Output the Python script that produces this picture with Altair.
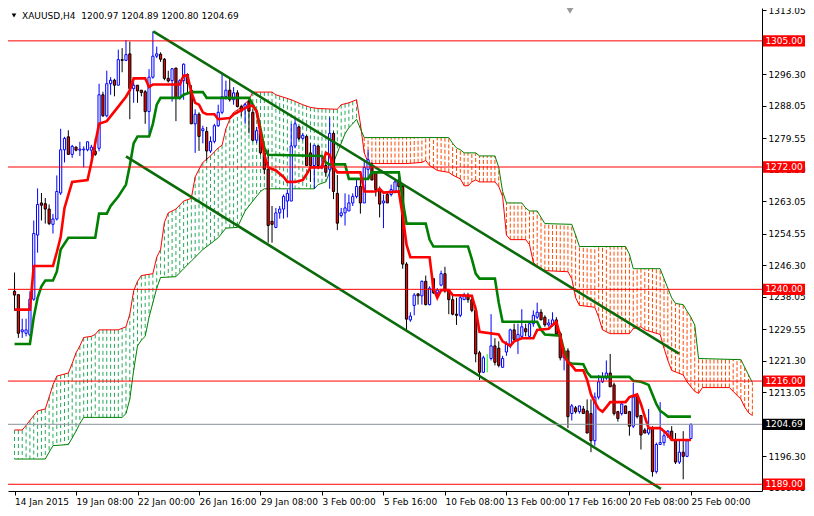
import altair as alt
import numpy as np
import pandas as pd

W, H = 754, 483
FONT = "DejaVu Sans"

HEADER = "XAUUSD,H4\u00a0 1200.97 1204.89 1200.80 1204.69"

OPEN = [1239.5, 1238.6, 1228.9, 1228.5, 1228.1, 1237.4, 1254.2, 1262.6, 1262.4, 1261.0,
        1257.0, 1258.4, 1265.2, 1276.5, 1279.9, 1275.3, 1277.2, 1276.4, 1276.5, 1276.5,
        1276.4, 1276.1, 1276.9, 1290.9, 1285.4, 1293.8, 1294.7, 1293.4, 1300.1, 1299.9,
        1301.6, 1292.5, 1293.4, 1292.1, 1291.7, 1286.5, 1295.5, 1301.0, 1301.5, 1300.2,
        1295.2, 1294.6, 1297.9, 1290.1, 1294.6, 1296.2, 1292.1, 1283.3, 1285.8, 1281.5,
        1281.3, 1276.2, 1278.7, 1282.8, 1286.3, 1290.4, 1292.1, 1289.6, 1291.4, 1287.8,
        1287.6, 1289.1, 1286.3, 1279.0, 1280.8, 1275.7, 1271.4, 1257.8, 1256.2, 1260.0,
        1261.0, 1263.1, 1263.1, 1277.5, 1282.5, 1279.5, 1280.0, 1275.7, 1272.4, 1277.5,
        1271.9, 1272.4, 1271.4, 1280.8, 1265.1, 1259.3, 1260.0, 1260.5, 1262.6, 1264.3,
        1266.9, 1262.6, 1271.4, 1272.4, 1270.6, 1266.1, 1262.6, 1264.8, 1264.8, 1265.6,
        1268.1, 1266.9, 1246.6, 1232.0, 1235.8, 1238.8, 1238.3, 1242.1, 1236.0, 1242.8,
        1239.1, 1241.1, 1244.1, 1239.8, 1237.3, 1233.5, 1233.2, 1237.3, 1238.5, 1237.3,
        1234.5, 1223.4, 1218.3, 1220.9, 1221.9, 1225.2, 1224.6, 1219.6, 1223.6, 1225.2,
        1229.4, 1226.9, 1227.7, 1229.7, 1227.7, 1231.0, 1232.7, 1234.0, 1232.7, 1230.7,
        1230.7, 1232.0, 1228.4, 1222.1, 1223.9, 1207.5, 1209.0, 1208.0, 1208.7, 1208.2,
        1207.5, 1200.4, 1211.8, 1215.8, 1216.8, 1218.1, 1215.0, 1208.0, 1207.5, 1209.5,
        1208.0, 1204.2, 1211.8, 1207.0, 1203.2, 1202.4, 1203.7, 1192.3, 1199.4, 1199.9,
        1201.7, 1202.9, 1200.6, 1194.8, 1197.4, 1196.3, 1200.97]
HIGH = [1244.4, 1238.6, 1232.3, 1232.3, 1239.5, 1258.0, 1266.4, 1265.2, 1263.9, 1262.2,
        1259.7, 1269.8, 1282.0, 1279.9, 1281.6, 1277.8, 1277.4, 1278.6, 1277.4, 1278.6,
        1277.8, 1279.5, 1293.8, 1291.7, 1297.2, 1295.5, 1295.1, 1302.7, 1303.1, 1305.2,
        1304.8, 1295.5, 1293.4, 1292.1, 1292.1, 1297.6, 1307.5, 1303.5, 1302.0, 1300.5,
        1297.2, 1297.9, 1297.9, 1295.0, 1299.1, 1296.5, 1293.4, 1287.1, 1286.3, 1282.8,
        1282.5, 1280.0, 1283.3, 1288.3, 1296.7, 1294.6, 1295.2, 1292.9, 1292.1, 1288.3,
        1288.8, 1289.6, 1287.1, 1282.5, 1281.3, 1276.5, 1276.5, 1261.8, 1261.3, 1261.8,
        1264.8, 1266.1, 1283.3, 1285.0, 1282.8, 1280.8, 1280.3, 1278.2, 1277.7, 1277.7,
        1274.9, 1273.2, 1285.0, 1281.3, 1269.9, 1261.3, 1265.1, 1264.8, 1265.1, 1268.9,
        1268.9, 1273.7, 1276.5, 1273.2, 1270.6, 1266.9, 1264.8, 1265.6, 1267.4, 1268.9,
        1269.9, 1267.4, 1247.1, 1234.0, 1239.0, 1239.0, 1242.3, 1243.6, 1240.8, 1242.8,
        1240.3, 1244.9, 1245.9, 1239.8, 1238.5, 1237.8, 1238.5, 1239.1, 1239.1, 1238.3,
        1235.8, 1223.9, 1222.6, 1223.1, 1233.5, 1227.2, 1226.4, 1222.6, 1226.4, 1229.7,
        1231.0, 1231.0, 1234.8, 1231.0, 1231.5, 1234.5, 1236.5, 1234.8, 1233.2, 1232.2,
        1234.0, 1232.7, 1228.9, 1224.6, 1224.6, 1210.0, 1209.5, 1209.5, 1209.5, 1211.2,
        1211.2, 1213.0, 1217.6, 1218.3, 1221.4, 1223.1, 1215.6, 1208.2, 1210.5, 1209.5,
        1208.2, 1215.6, 1212.5, 1207.0, 1203.7, 1208.7, 1204.2, 1199.9, 1210.5, 1202.9,
        1203.2, 1204.2, 1202.4, 1200.4, 1202.9, 1200.6, 1204.89]
LOW = [1234.4, 1227.3, 1227.3, 1227.7, 1227.7, 1237.0, 1249.6, 1258.0, 1257.2, 1256.8,
       1254.6, 1258.0, 1264.7, 1273.2, 1275.3, 1274.4, 1276.1, 1274.9, 1271.9, 1276.1,
       1273.2, 1274.9, 1276.1, 1285.1, 1285.0, 1290.9, 1290.5, 1293.4, 1296.8, 1299.7,
       1284.5, 1288.8, 1288.8, 1290.5, 1283.3, 1280.8, 1295.1, 1300.5, 1299.5, 1294.7,
       1294.1, 1289.1, 1284.0, 1289.6, 1289.6, 1291.6, 1283.3, 1275.7, 1276.2, 1278.2,
       1273.7, 1275.7, 1278.2, 1282.5, 1285.8, 1289.6, 1289.1, 1288.3, 1287.6, 1285.3,
       1283.3, 1280.8, 1278.7, 1278.2, 1275.2, 1270.1, 1252.2, 1252.2, 1256.0, 1258.5,
       1258.5, 1258.8, 1263.1, 1276.9, 1279.0, 1279.0, 1272.4, 1268.1, 1266.3, 1271.4,
       1271.4, 1269.4, 1266.3, 1263.6, 1255.5, 1258.8, 1256.7, 1260.5, 1261.8, 1263.8,
       1259.8, 1262.6, 1268.9, 1268.6, 1264.3, 1258.8, 1256.0, 1262.6, 1264.3, 1265.1,
       1265.6, 1245.4, 1229.4, 1231.5, 1233.2, 1236.0, 1236.0, 1235.8, 1235.8, 1238.8,
       1237.8, 1240.8, 1239.1, 1233.5, 1233.2, 1230.7, 1232.7, 1237.3, 1236.5, 1234.0,
       1220.9, 1216.3, 1218.1, 1218.3, 1221.4, 1220.1, 1219.6, 1219.6, 1222.6, 1224.6,
       1226.4, 1223.1, 1227.2, 1227.7, 1227.2, 1230.2, 1232.2, 1232.0, 1230.2, 1230.2,
       1230.2, 1228.2, 1221.4, 1218.8, 1203.7, 1205.7, 1207.5, 1207.5, 1207.5, 1202.4,
       1197.4, 1199.1, 1211.2, 1215.5, 1216.3, 1214.5, 1207.0, 1205.4, 1207.0, 1207.5,
       1201.7, 1203.7, 1206.2, 1198.1, 1202.4, 1201.9, 1191.0, 1191.8, 1199.4, 1199.1,
       1201.1, 1200.4, 1194.3, 1194.3, 1190.3, 1196.1, 1200.80]
CLOSE = [1238.5, 1228.5, 1229.4, 1229.4, 1237.4, 1254.6, 1262.2, 1262.0, 1261.0, 1257.2,
         1258.4, 1265.6, 1276.5, 1279.5, 1275.3, 1277.4, 1276.4, 1276.7, 1276.7, 1278.6,
         1277.2, 1275.3, 1290.9, 1285.4, 1293.8, 1294.7, 1293.4, 1300.1, 1299.9, 1301.4,
         1292.5, 1293.4, 1291.9, 1291.5, 1286.5, 1295.5, 1301.0, 1301.6, 1300.2, 1295.2,
         1294.5, 1297.7, 1290.1, 1294.6, 1298.9, 1293.9, 1283.3, 1285.8, 1280.0, 1282.0,
         1276.2, 1278.7, 1282.8, 1286.3, 1290.4, 1292.1, 1289.6, 1291.4, 1287.8, 1286.6,
         1288.3, 1286.6, 1279.0, 1281.5, 1275.7, 1271.4, 1256.7, 1257.0, 1260.0, 1261.0,
         1264.3, 1265.1, 1277.5, 1283.3, 1279.5, 1280.3, 1272.4, 1272.4, 1277.7, 1272.4,
         1272.4, 1270.6, 1280.8, 1265.6, 1257.3, 1260.0, 1261.3, 1262.6, 1264.3, 1266.9,
         1262.6, 1271.9, 1273.9, 1268.6, 1266.1, 1262.3, 1263.1, 1262.6, 1266.1, 1268.1,
         1266.9, 1246.6, 1232.2, 1233.0, 1238.5, 1238.3, 1242.1, 1236.0, 1240.3, 1239.1,
         1239.8, 1244.1, 1239.6, 1237.3, 1233.5, 1233.2, 1237.8, 1238.5, 1237.3, 1234.5,
         1223.1, 1218.3, 1222.1, 1220.9, 1225.2, 1220.9, 1220.1, 1221.9, 1225.7, 1229.4,
         1226.9, 1228.2, 1230.2, 1228.9, 1231.0, 1233.2, 1234.0, 1232.0, 1230.7, 1231.2,
         1232.0, 1228.4, 1222.1, 1223.9, 1206.7, 1209.5, 1208.0, 1209.5, 1207.5, 1202.4,
         1200.4, 1211.8, 1215.8, 1217.1, 1218.1, 1214.5, 1207.5, 1206.2, 1210.0, 1207.5,
         1204.2, 1211.8, 1206.7, 1201.9, 1202.4, 1203.7, 1192.3, 1199.4, 1199.9, 1201.7,
         1202.9, 1200.6, 1194.8, 1197.4, 1196.3, 1200.4, 1204.69]

TENKAN = [(0, 1234.7), (4, 1234.7), (5, 1246.1), (10, 1246.1), (11, 1249.7), (12, 1253.7),
          (13, 1261.3), (15, 1268.1), (19, 1268.6), (20, 1273.2), (21, 1278.2), (22, 1283.3),
          (24, 1284.0), (27, 1287.8), (29, 1290.4), (30, 1292.1), (31, 1295.2), (34, 1295.2),
          (35, 1292.9), (36, 1293.6), (43, 1293.6), (44, 1295.9), (45, 1295.9), (46, 1291.6),
          (47, 1288.8), (48, 1288.3), (49, 1286.3), (50, 1285.8), (52, 1285.8), (53, 1284.5),
          (56, 1284.8), (57, 1285.8), (59, 1286.8), (61, 1288.0), (62, 1288.0), (63, 1286.6),
          (64, 1280.8), (65, 1275.2), (66, 1271.9), (68, 1271.1), (70, 1269.4), (71, 1268.1),
          (73, 1268.1), (75, 1268.6), (76, 1270.1), (77, 1271.9), (80, 1271.9), (81, 1275.7),
          (82, 1275.2), (83, 1271.9), (84, 1270.6), (90, 1270.6), (91, 1265.6), (94, 1265.6),
          (95, 1266.3), (96, 1265.3), (100, 1265.6), (101, 1259.3), (102, 1251.7), (103, 1248.4),
          (108, 1248.4), (109, 1240.3), (110, 1237.8), (111, 1239.8), (113, 1239.8), (114, 1238.5),
          (119, 1238.3), (120, 1234.8), (121, 1228.9), (126, 1228.2), (127, 1226.4), (129, 1225.2),
          (130, 1226.4), (132, 1227.2), (135, 1227.2), (136, 1229.4), (139, 1229.7), (140, 1230.7),
          (141, 1231.5), (142, 1227.7), (143, 1222.6), (144, 1220.9), (145, 1220.1), (146, 1218.8),
          (148, 1218.8), (149, 1216.3), (150, 1212.5), (151, 1210.5), (152, 1208.7), (153, 1208.0),
          (154, 1209.2), (155, 1210.5), (159, 1210.5), (160, 1211.8), (162, 1212.5), (163, 1210.0),
          (164, 1206.7), (165, 1203.7), (168, 1203.7), (169, 1202.9), (170, 1201.9), (171, 1200.6),
          (176, 1200.6)]

KIJUN = [(0, 1225.7), (4, 1225.7), (5, 1232.7), (6, 1237.8), (7, 1240.8), (8, 1242.3),
         (10, 1242.3), (11, 1244.6), (12, 1250.4), (14, 1253.5), (21, 1253.5), (22, 1259.8),
         (24, 1259.8), (25, 1261.8), (27, 1264.3), (29, 1267.4), (30, 1272.4), (31, 1278.2),
         (32, 1280.0), (35, 1280.0), (36, 1283.3), (37, 1288.3), (38, 1290.1), (43, 1290.1),
         (44, 1290.9), (46, 1291.6), (49, 1291.6), (50, 1290.1), (61, 1290.1), (62, 1288.3),
         (63, 1286.6), (64, 1282.0), (65, 1277.0), (66, 1275.2), (80, 1274.9), (81, 1273.2),
         (82, 1272.7), (86, 1272.7), (87, 1268.9), (92, 1268.9), (93, 1270.6), (100, 1270.6),
         (101, 1263.1), (102, 1257.2), (107, 1257.2), (108, 1253.0), (109, 1251.2), (118, 1251.2),
         (119, 1247.9), (120, 1244.1), (121, 1242.8), (125, 1242.8), (126, 1236.5), (127, 1231.5),
         (136, 1231.5), (137, 1229.4), (138, 1228.2), (142, 1227.9), (143, 1224.0), (144, 1220.9),
         (145, 1220.6), (148, 1220.4), (149, 1218.3), (150, 1217.1), (160, 1217.1), (161, 1216.1),
         (163, 1215.8), (165, 1215.0), (166, 1212.5), (167, 1210.0), (168, 1208.2), (169, 1207.5),
         (170, 1206.7), (176, 1206.7)]

SPAN_A = [(0, 1203.2), (2, 1203.2), (3, 1204.4), (5, 1207.0), (6, 1208.2), (8, 1208.7),
          (9, 1211.8), (10, 1215.0), (11, 1217.3), (14, 1218.1), (15, 1220.6), (16, 1223.4),
          (17, 1225.2), (18, 1227.4), (20, 1227.7), (21, 1228.2), (22, 1229.4), (27, 1229.4),
          (29, 1230.2), (30, 1233.5), (31, 1239.6), (32, 1242.1), (33, 1243.6), (36, 1244.1),
          (37, 1248.4), (38, 1250.4), (39, 1257.5), (40, 1260.0), (42, 1261.0), (44, 1263.1),
          (46, 1263.8), (47, 1269.4), (48, 1271.4), (49, 1273.2), (51, 1274.9), (53, 1277.0),
          (54, 1277.7), (55, 1282.0), (56, 1284.5), (57, 1286.3), (59, 1287.6), (61, 1289.6),
          (62, 1291.6), (67, 1291.6), (68, 1290.9), (72, 1289.6), (75, 1288.3), (77, 1287.6),
          (79, 1287.3), (84, 1287.1), (85, 1288.3), (87, 1288.8), (89, 1289.6), (90, 1283.3),
          (91, 1275.7), (92, 1273.2), (93, 1272.9), (102, 1272.9), (106, 1273.2), (107, 1273.7),
          (108, 1272.4), (110, 1271.1), (113, 1270.6), (114, 1269.9), (116, 1268.9), (117, 1267.1),
          (118, 1267.1), (119, 1268.1), (120, 1268.6), (121, 1268.1), (125, 1268.1), (126, 1266.9),
          (127, 1264.3), (128, 1254.2), (129, 1253.0), (133, 1253.0), (134, 1251.7), (135, 1247.1),
          (136, 1245.9), (138, 1244.9), (144, 1244.6), (145, 1242.8), (146, 1237.8), (147, 1235.8),
          (151, 1235.3), (152, 1232.7), (153, 1229.4), (155, 1228.4), (160, 1228.4), (161, 1229.7),
          (163, 1230.2), (164, 1229.4), (168, 1228.2), (169, 1224.6), (170, 1221.4), (171, 1218.8),
          (174, 1217.6), (175, 1215.8), (176, 1214.5), (177, 1213.3), (178, 1212.8), (179, 1214.3),
          (186, 1214.3), (187, 1213.3), (189, 1211.3), (190, 1209.2), (191, 1207.7), (192, 1207.0)]

SPAN_B = [(0, 1195.6), (8, 1195.6), (9, 1197.4), (10, 1199.1), (14, 1199.4), (15, 1201.1),
          (16, 1202.9), (17, 1204.9), (18, 1206.5), (28, 1206.5), (29, 1207.5), (30, 1211.3),
          (31, 1218.8), (32, 1225.2), (33, 1226.7), (34, 1227.7), (35, 1232.7), (36, 1236.5),
          (37, 1240.3), (38, 1243.1), (42, 1243.3), (44, 1245.4), (46, 1247.4), (47, 1248.4),
          (49, 1250.4), (53, 1253.5), (55, 1256.0), (58, 1256.2), (60, 1260.5), (62, 1263.1),
          (64, 1265.6), (65, 1266.3), (78, 1266.3), (79, 1267.4), (81, 1268.1), (83, 1273.2),
          (85, 1278.2), (86, 1280.7), (87, 1282.3), (88, 1283.3), (89, 1284.5), (90, 1282.0),
          (91, 1279.7), (113, 1279.7), (114, 1278.2), (115, 1277.0), (116, 1276.5), (117, 1275.7),
          (120, 1275.7), (121, 1274.9), (125, 1274.9), (126, 1271.9), (127, 1265.6), (128, 1262.6),
          (132, 1262.6), (133, 1261.3), (134, 1260.5), (136, 1260.5), (137, 1258.8), (138, 1257.2),
          (145, 1257.0), (146, 1254.2), (147, 1251.2), (159, 1251.2), (160, 1249.2), (161, 1245.4),
          (168, 1245.4), (169, 1242.8), (170, 1240.3), (171, 1237.8), (172, 1236.3), (174, 1236.0),
          (175, 1234.3), (176, 1232.7), (177, 1230.7), (178, 1221.9), (189, 1221.6), (190, 1219.6),
          (191, 1217.6), (192, 1215.6)]

CHANNEL_UPPER = [(36.1, 1307.5), (172.9, 1223.2)]
CHANNEL_LOWER = [(29.0, 1274.8), (168.2, 1187.8)]

LEVELS = [1305.0, 1272.0, 1240.0, 1216.0, 1189.0]
LAST_PRICE = 1204.69

Y_TICKS = [1313.05, 1296.30, 1288.05, 1279.55, 1271.30, 1263.05, 1254.55,
           1246.30, 1238.05, 1229.55, 1221.30, 1213.05, 1196.30, 1188.05]
X_TICK_BARS = [0, 16, 32, 48, 64, 80, 96, 112, 128, 144, 160, 176]
X_TICK_LABELS = ["14 Jan 2015", "19 Jan 08:00", "22 Jan 00:00", "26 Jan 16:00",
                 "29 Jan 08:00", "3 Feb 00:00", "5 Feb 16:00", "10 Feb 08:00",
                 "13 Feb 00:00", "17 Feb 16:00", "20 Feb 08:00", "25 Feb 00:00"]

# ---------------------------------------------------------------- tables
bars = pd.DataFrame({"i": np.arange(len(OPEN)), "o": OPEN, "h": HIGH, "l": LOW, "c": CLOSE})
bars["kind"] = np.where(bars.c > bars.o, "bull", np.where(bars.c < bars.o, "bear", "doji"))


def pts(pairs):
    return pd.DataFrame({"i": [p[0] for p in pairs], "v": [p[1] for p in pairs]})


ten_df, kij_df = pts(TENKAN), pts(KIJUN)
sa_df, sb_df = pts(SPAN_A), pts(SPAN_B)
up_df, lo_df = pts(CHANNEL_UPPER), pts(CHANNEL_LOWER)

# hatching between the two drawn span polylines (one dotted stroke per bar)
hb = np.arange(0, 193)
ha = np.interp(hb, sa_df.i, sa_df.v)
hbv = np.interp(hb, sb_df.i, sb_df.v)
hatch = pd.DataFrame({"i": hb, "a": ha, "b": hbv, "side": np.where(ha >= hbv, "up", "down")})

lev_df = pd.DataFrame({"p": LEVELS, "t": [f"{v:.2f}" for v in LEVELS]})
last_df = pd.DataFrame({"p": [LAST_PRICE], "t": [f"{LAST_PRICE:.2f}"]})

xs = alt.Scale(domain=[-0.4, 193.2], nice=False, zero=False)
ys = alt.Scale(domain=[1187.24, 1313.6], nice=False, zero=False)

label_expr = "[" + ",".join(f"'{s}'" for s in X_TICK_LABELS) + "][round(datum.value / 16)]"
x_axis = alt.Axis(values=X_TICK_BARS, labelExpr=label_expr, orient="bottom", title=None,
                  tickSize=4, tickColor="black", domainColor="black", labelColor="black",
                  labelFont=FONT, labelFontSize=9, labelAlign="left", labelPadding=2,
                  labelFlush=False, labelOverlap=False, grid=False)
y_axis = alt.Axis(values=Y_TICKS, format=".2f", orient="right", title=None,
                  tickSize=4, tickColor="black", domainColor="black", labelColor="black",
                  labelFont=FONT, labelFontSize=9, labelPadding=2, labelFlush=False,
                  labelOverlap=False, grid=False)


def X(f):
    return alt.X(f, type="quantitative", scale=xs, axis=x_axis)


def Y(f):
    return alt.Y(f, type="quantitative", scale=ys, axis=y_axis)


def hatch_part(side, colour, dash):
    return alt.Chart(hatch).transform_filter(f"datum.side == '{side}'").mark_rule(
        strokeWidth=1, strokeDash=dash, color=colour).encode(x=X("i"), y=Y("a"), y2="b:Q")


def wick_part(kind, colour):
    return alt.Chart(bars).transform_filter(f"datum.kind == '{kind}'").mark_rule(
        strokeWidth=1, color=colour).encode(x=X("i"), y=Y("l"), y2="h:Q")


def body_part(kind, fill, stroke):
    return alt.Chart(bars).transform_filter(f"datum.kind == '{kind}'").mark_bar(
        size=2.2, strokeWidth=1, fill=fill, stroke=stroke).encode(x=X("i"), y=Y("o"), y2="c:Q")


def line(df, colour, width):
    return alt.Chart(df).mark_line(color=colour, strokeWidth=width).encode(x=X("i"), y=Y("v"))


hatch_up = hatch_part("up", "#25A95A", [4, 3])
hatch_dn = hatch_part("down", "#FF4A00", [4, 2])
span_a_layer = line(sa_df, "#FF0000", 1)
span_b_layer = line(sb_df, "#008000", 1)

wick_bull = wick_part("bull", "#0000FF")
wick_bear = wick_part("bear", "#000000")
wick_doji = wick_part("doji", "#00FF00")
body_bull = body_part("bull", "#FFFFFF", "#0000FF")
body_bear = body_part("bear", "#FF0000", "#000000")

kijun_layer = line(kij_df, "#008000", 2.6)
tenkan_layer = line(ten_df, "#FF0000", 2.6)
ch_up = line(up_df, "#0B6B0B", 2.6)
ch_lo = line(lo_df, "#0B6B0B", 2.6)

level_rules = alt.Chart(lev_df).mark_rule(color="#FF0000", strokeWidth=1).encode(y=Y("p"))
last_rule = alt.Chart(last_df).mark_rule(color="#8A929A", strokeWidth=1).encode(y=Y("p"))

BOX = "M-1,-0.27L1,-0.27L1,0.27L-1,0.27Z"
BX = W + 22


def price_box(df, colour):
    box = alt.Chart(df).mark_point(shape=BOX, size=42 * 42, filled=True, opacity=1,
                                   strokeWidth=0, color=colour).encode(x=alt.value(BX), y=Y("p"))
    txt = alt.Chart(df).mark_text(color="white", font=FONT, fontSize=9, align="center",
                                  baseline="middle").encode(x=alt.value(BX), y=Y("p"), text="t:N")
    return box, txt


level_box, level_txt = price_box(lev_df, "#FF0000")
last_box, last_txt = price_box(last_df, "#000000")

head_df = pd.DataFrame({"t": [HEADER]})
header = alt.Chart(head_df).mark_text(align="left", baseline="middle", font=FONT,
                                      fontSize=9, color="black").encode(
    x=alt.value(14), y=alt.value(8), text="t:N")
head_tri = alt.Chart(head_df).mark_point(shape="triangle-down", size=22, filled=True,
                                         opacity=1, color="black").encode(
    x=alt.value(6), y=alt.value(7.5))
shift_tri = alt.Chart(head_df).mark_point(shape="triangle-down", size=60, filled=True,
                                          opacity=1, color="#9A9A9A").encode(
    x=alt.value(562), y=alt.value(2.5))

chart = alt.layer(
    hatch_up, hatch_dn, span_a_layer, span_b_layer,
    wick_bull, wick_bear, wick_doji, body_bull, body_bear,
    kijun_layer, tenkan_layer, ch_up, ch_lo, level_rules, last_rule,
    level_box, level_txt, last_box, last_txt, header, head_tri, shift_tri
).properties(
    width=W, height=H,
    autosize=alt.AutoSizeParams(type="none"),
    padding={"left": 0, "top": 0, "right": 44, "bottom": 17},
    background="white"
).configure_view(stroke=None).configure_axis(grid=False)

chart.save("out.html", embed_options={"renderer": "svg", "actions": False})
